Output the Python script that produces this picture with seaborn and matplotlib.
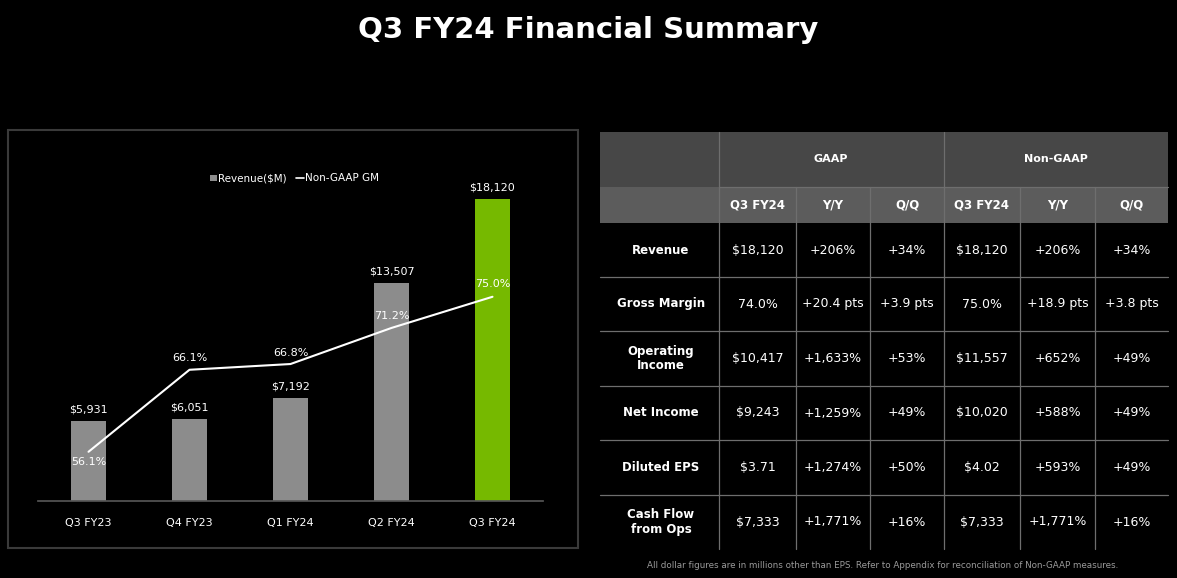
import matplotlib
matplotlib.use('Agg')
import matplotlib.pyplot as plt
import seaborn as sns
import pandas as pd
from matplotlib.patches import Rectangle

# chart data
quarters = ['Q3 FY23', 'Q4 FY23', 'Q1 FY24', 'Q2 FY24', 'Q3 FY24']
revenue = [5931, 6051, 7192, 13507, 18120]
gross_margin = [56.1, 66.1, 66.8, 71.2, 75.0]

# table data
row_labels = ['Revenue', 'Gross Margin', 'Operating\nIncome', 'Net Income', 'Diluted EPS', 'Cash Flow\nfrom Ops']
gaap_q3 = ['$18,120', '74.0%', '$10,417', '$9,243', '$3.71', '$7,333']
gaap_yy = ['+206%', '+20.4 pts', '+1,633%', '+1,259%', '+1,274%', '+1,771%']
gaap_qq = ['+34%', '+3.9 pts', '+53%', '+49%', '+50%', '+16%']
ngaap_q3 = ['$18,120', '75.0%', '$11,557', '$10,020', '$4.02', '$7,333']
ngaap_yy = ['+206%', '+18.9 pts', '+652%', '+588%', '+593%', '+1,771%']
ngaap_qq = ['+34%', '+3.8 pts', '+49%', '+49%', '+49%', '+16%']
sub_headers = ['Q3 FY24', 'Y/Y', 'Q/Q', 'Q3 FY24', 'Y/Y', 'Q/Q']

W, H = 1177, 578
sns.set_theme(style='dark')
plt.rcParams['font.family'] = ['DejaVu Sans']
fig = plt.figure(figsize=(W / 100, H / 100), dpi=100, facecolor='black')

def fx(x):
    return x / W

def fy(y):
    return 1 - y / H

fig.text(0.5, fy(30), 'Q3 FY24 Financial Summary', color='white', fontsize=21,
         fontweight='bold', ha='center', va='center')

# chart panel border
fig.patches.append(Rectangle((fx(8), fy(548)), fx(570), (548 - 130) / H, transform=fig.transFigure,
                             fill=False, edgecolor='#3a3a3a', lw=1.5))

ax = fig.add_axes([fx(38), fy(501), fx(505), (501 - 168) / H])
ax.set_facecolor('black')
df = pd.DataFrame({'quarter': quarters, 'revenue': revenue})
colors = ['#8c8c8c'] * 4 + ['#76b900']
sns.barplot(data=df, x='quarter', y='revenue', hue='quarter', palette=colors, width=0.34,
            legend=False, ax=ax, saturation=1, edgecolor='none', linewidth=0)
ax.set_ylim(1540, 19825)
ax.set_xlim(-0.5, 4.5)
ax.set_yticks([])
ax.set_xlabel('')
ax.set_ylabel('')
ax.tick_params(axis='x', colors='white', labelsize=8, length=0, pad=12)
for s in ['top', 'right', 'left']:
    ax.spines[s].set_visible(False)
ax.spines['bottom'].set_color('#555555')
ax.grid(False)
for i, v in enumerate(revenue):
    ax.text(i, v + 350, '${:,}'.format(v), color='white', fontsize=8, ha='center', va='bottom')

ax2 = ax.twinx()
sns.lineplot(x=list(range(5)), y=gross_margin, color='white', lw=1.5, ax=ax2)
ax2.set_ylim(50.1, 90.7)
ax2.set_yticks([])
ax2.grid(False)
for s in ax2.spines.values():
    s.set_visible(False)
offsets = [-1.3, 1.4, 1.4, 1.4, 1.5]
for i, (v, o) in enumerate(zip(gross_margin, offsets)):
    ax2.text(i, v + o, '{:.1f}%'.format(v), color='white', fontsize=8, ha='center', va='center')

# legend
fig.patches.append(Rectangle((fx(210), fy(181)), fx(7), 6 / H, transform=fig.transFigure,
                             facecolor='#8c8c8c', edgecolor='none'))
fig.text(fx(218), fy(178), 'Revenue($M)', color='white', fontsize=7.5, va='center')
fig.lines.append(plt.Line2D([fx(296), fx(304)], [fy(178), fy(178)], transform=fig.transFigure,
                            color='white', lw=1.2))
fig.text(fx(305), fy(178), 'Non-GAAP GM', color='white', fontsize=7.5, va='center')

# table
col_x = [600, 719, 796, 870, 944, 1020, 1095, 1168]
row_y = [223, 277, 331, 386, 440, 495, 549]
fig.patches.append(Rectangle((fx(600), fy(187)), fx(568), 55 / H, transform=fig.transFigure,
                             facecolor='#474747', edgecolor='none'))
fig.patches.append(Rectangle((fx(600), fy(223)), fx(568), 36 / H, transform=fig.transFigure,
                             facecolor='#5c5c5c', edgecolor='none'))
line_c = '#6e6e6e'
# vertical lines
for x in col_x[1:-1]:
    top = 132 if x in (719, 944) else 187
    fig.lines.append(plt.Line2D([fx(x), fx(x)], [fy(top), fy(549)], transform=fig.transFigure,
                                color=line_c, lw=0.9))
fig.lines.append(plt.Line2D([fx(719), fx(1168)], [fy(187), fy(187)], transform=fig.transFigure,
                            color=line_c, lw=0.9))
for y in row_y[1:-1]:
    fig.lines.append(plt.Line2D([fx(600), fx(1168)], [fy(y), fy(y)], transform=fig.transFigure,
                                color=line_c, lw=0.9))
fig.text(fx(831), fy(159), 'GAAP', color='white', fontsize=8, fontweight='bold', ha='center', va='center')
fig.text(fx(1056), fy(159), 'Non-GAAP', color='white', fontsize=8, fontweight='bold', ha='center', va='center')
for j, h in enumerate(sub_headers):
    fig.text(fx((col_x[j + 1] + col_x[j + 2]) / 2), fy(205), h, color='white', fontsize=8.5,
             fontweight='bold', ha='center', va='center')
cols = [gaap_q3, gaap_yy, gaap_qq, ngaap_q3, ngaap_yy, ngaap_qq]
for i, lab in enumerate(row_labels):
    yc = fy((row_y[i] + row_y[i + 1]) / 2)
    fig.text(fx(661), yc, lab, color='white', fontsize=8.5, fontweight='bold', ha='center', va='center',
             linespacing=1.1)
    for j, col in enumerate(cols):
        fig.text(fx((col_x[j + 1] + col_x[j + 2]) / 2), yc, col[i], color='white', fontsize=9,
                 ha='center', va='center')

fig.text(fx(883), fy(565), 'All dollar figures are in millions other than EPS. Refer to Appendix for reconciliation of Non-GAAP measures.',
         color='#9a9a9a', fontsize=6.3, ha='center', va='center')

fig.savefig('out.png', dpi=100, facecolor='black')
